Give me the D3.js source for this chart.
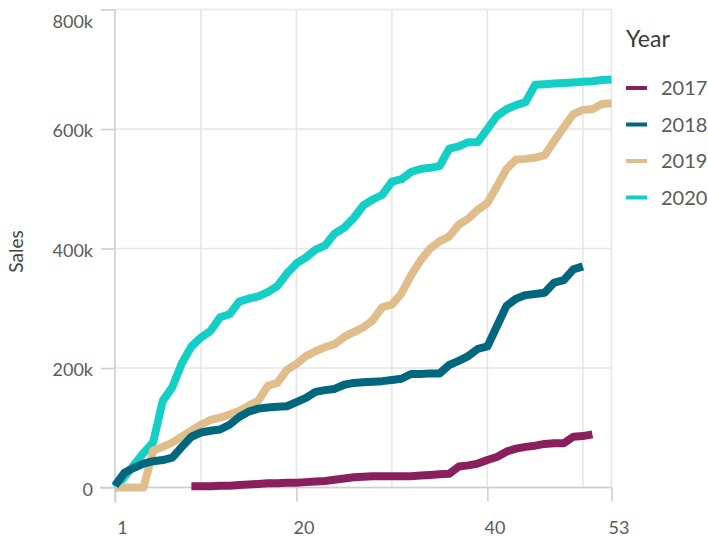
<!DOCTYPE html>
<html>
<head>
<meta charset="utf-8">
<script src="https://cdn.jsdelivr.net/npm/d3@7"></script>
<style>
  html, body { margin: 0; padding: 0; background: #fff; }
  svg { display: block; font-family: Lato, "Open Sans", sans-serif; }
</style>
</head>
<body>
<svg id="chart" width="708" height="539"></svg>
<script>
// ---- data (values in thousands) ----
const weeks = d3.range(1, 54);
const years = ["2017", "2018", "2019", "2020"];
const colors = ["#8a1f5d", "#00677f", "#e0be8b", "#13cfc6"];

const sales2017 = [null, null, null, null, null, null, null, null,
  2, 2, 2, 3, 3, 4, 5, 6, 7, 7, 8, 8, 9, 10, 11, 13, 15, 17, 18, 19, 19, 19,
  19, 19, 20, 21, 22, 23, 35, 37, 40, 46, 51, 60, 65, 68, 70, 73, 74, 74, 85, 86,
  89, null, null];
const sales2018 = [3, 25, 33, 40, 44, 46, 50, 68, 85, 92, 95, 97, 105, 118, 127, 132, 134, 135, 136, 143,
  150, 160, 163, 165, 172, 175, 176, 177, 178, 180, 182, 190, 190, 191, 191, 205, 212, 220, 232, 236,
  270, 304, 316, 322, 324, 326, 343, 347, 365, 370, null, null, null];
const sales2019 = [0, 0, 0, 0, 62, 68, 75, 85, 95, 105, 113, 117, 122, 128, 137, 145, 170, 175, 197, 207,
  220, 228, 235, 240, 252, 260, 268, 280, 302, 306, 325, 355, 380, 400, 412, 420, 440, 450, 465, 476,
  504, 533, 549, 550, 552, 556, 580, 603, 625, 632, 633, 642, 643];
const sales2020 = [0, 18, 38, 58, 76, 145, 168, 208, 236, 251, 262, 285, 290, 311, 316, 320, 327, 337, 358, 375,
  385, 398, 405, 425, 435, 451, 472, 482, 490, 512, 516, 528, 533, 535, 538, 567, 571, 578, 578, 600,
  622, 633, 640, 645, 674, 675, 676, 677, 678, 679, 680, 682, 683];
const seriesValues = [sales2017, sales2018, sales2019, sales2020];

const xTicks = [1, 20, 40, 53];
const xGrid = [10, 20, 30, 40, 50, 53];
const yTicks = [0, 200, 400, 600, 800];
const yLabel = "Sales";
const legendTitle = "Year";

// ---- layout ----
const svg = d3.select("#chart");
const x = d3.scaleLinear().domain([1, 53]).range([115, 611.5]);
const y = d3.scaleLinear().domain([0, 800]).range([487.5, 9.5]);
const textColor = "#5b5b5b";
const gridColor = "#e6e6e6";
const axisColor = "#cfcfcf";

// grid
const grid = svg.append("g");
grid.selectAll("line.h").data(yTicks).join("line")
  .attr("x1", x(1)).attr("x2", x(53))
  .attr("y1", d => y(d)).attr("y2", d => y(d))
  .attr("stroke", gridColor).attr("stroke-width", 1.6);
grid.selectAll("line.v").data(xGrid).join("line")
  .attr("x1", d => x(d)).attr("x2", d => x(d))
  .attr("y1", y(800)).attr("y2", y(0))
  .attr("stroke", gridColor).attr("stroke-width", 1.6);

// axes
const yAxis = d3.axisLeft(y).tickValues(yTicks).tickSize(14).tickPadding(8)
  .tickFormat(d => d === 0 ? "0" : d + "k");
const gy = svg.append("g").attr("transform", `translate(${x(1)},0)`).call(yAxis);
gy.select(".domain").attr("d", `M0,${y(800)}V${y(0) + 15}`).attr("stroke", axisColor).attr("stroke-width", 1.6);
gy.selectAll(".tick line").attr("stroke", axisColor).attr("stroke-width", 1.6);
gy.selectAll(".tick text")
  .attr("fill", textColor).attr("font-size", 18).attr("font-family", "Lato")
  .attr("dy", d => d === 800 ? "1.0em" : "0.42em").attr("x", -22);

const xAxis = d3.axisBottom(x).tickValues(xTicks).tickSize(14).tickPadding(20);
const gx = svg.append("g").attr("transform", `translate(0,${y(0)})`).call(xAxis);
gx.select(".domain").attr("d", `M${x(1) - 15},0H${x(53)}`).attr("stroke", axisColor).attr("stroke-width", 1.6);
gx.selectAll(".tick line").attr("stroke", axisColor).attr("stroke-width", 1.6);
gx.selectAll(".tick text")
  .attr("fill", textColor).attr("font-size", 18).attr("font-family", "Lato")
  .attr("dx", 7);

// y label
svg.append("text")
  .attr("transform", `translate(23,${y(400) + 3}) rotate(-90)`)
  .attr("text-anchor", "middle")
  .attr("fill", "#444").attr("font-size", 19)
  .text(yLabel);

// lines
const line = d3.line()
  .defined(d => d.v != null)
  .x(d => x(d.w)).y(d => y(d.v));

const series = years.map((yr, i) => ({
  year: yr, color: colors[i],
  pts: weeks.map((w, j) => ({ w, v: seriesValues[i][j] }))
}));

svg.append("g").selectAll("path").data(series.slice().reverse()).join("path")
  .attr("d", d => line(d.pts))
  .attr("fill", "none")
  .attr("stroke", d => d.color)
  .attr("stroke-width", 8)
  .attr("stroke-linejoin", "round")
  .attr("stroke-linecap", "butt");

// legend
const lg = svg.append("g");
lg.append("text").attr("x", 626).attr("y", 47)
  .attr("fill", "#3a3a3a").attr("font-size", 23).text(legendTitle);
const item = lg.selectAll("g.item").data(series).join("g")
  .attr("transform", (d, i) => `translate(626,${88 + i * 36.5})`);
item.append("line").attr("x1", 0).attr("x2", 21).attr("y1", 0).attr("y2", 0)
  .attr("stroke", d => d.color).attr("stroke-width", 4);
item.append("text").attr("x", 35).attr("y", 0).attr("dy", "0.36em")
  .attr("fill", textColor).attr("font-size", 20).text(d => d.year);
</script>
</body>
</html>
